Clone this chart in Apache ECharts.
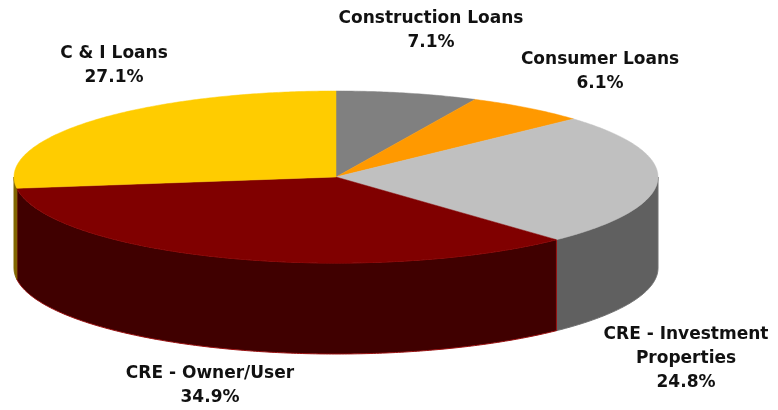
<!DOCTYPE html>
<html>
<head>
<meta charset="utf-8">
<style>html,body{margin:0;padding:0;background:#fff}#c{width:778px;height:410px}</style>
<script src="https://cdn.jsdelivr.net/npm/echarts@6/dist/echarts.min.js"></script>
</head>
<body>
<div id="c"></div>
<script>
const categories = ['Construction Loans', 'Consumer Loans', 'CRE - Investment\nProperties', 'CRE - Owner/User', 'C & I Loans'];
const shares = [7.1, 6.1, 24.8, 34.9, 27.1];
const topColors = ['#808080', '#FF9900', '#C0C0C0', '#800000', '#FFCC00'];
const sideColors = ['#404040', '#804C00', '#606060', '#400000', '#806600'];
const sideEdges = ['#606060', '#804C00', '#707070', '#9a1010', '#806600'];
const labelAnchors = [[431, 31], [600, 72], [686, 359], [210, 386], [114, 66]];

const CX = 336, CY = 177, RX = 322, RY = 86, DEPTH = 91;
const total = shares.reduce((a, b) => a + b, 0);

function pt(a, dy) {
  return [CX + RX * Math.sin(a), CY - RY * Math.cos(a) + (dy || 0)];
}
function arc(a0, a1, dy) {
  const out = [];
  const n = Math.max(2, Math.ceil((a1 - a0) / 0.01));
  for (let i = 0; i <= n; i++) out.push(pt(a0 + (a1 - a0) * i / n, dy));
  return out;
}

const chart = echarts.init(document.getElementById('c'), null, { renderer: 'canvas' });

function cumBefore(i) {
  let s = 0;
  for (let k = 0; k < i; k++) s += shares[k];
  return s;
}

function renderSlice(params, api) {
  const i = params.dataIndex;
  const start = cumBefore(i) / total * Math.PI * 2;
  const end = start + api.value(0) / total * Math.PI * 2;
  const children = [];
  // side wall: only the front half of the rim (90deg..270deg) is visible
  const s0 = Math.max(start, Math.PI / 2), s1 = Math.min(end, Math.PI * 1.5);
  if (s1 > s0) {
    const upper = arc(s0, s1, 0);
    const lower = arc(s0, s1, DEPTH).reverse();
    children.push({
      type: 'polygon', z2: 1,
      shape: { points: upper.concat(lower) },
      style: { fill: sideColors[i], stroke: sideEdges[i], lineWidth: 1 }
    });
  }
  children.push({
    type: 'polygon', z2: 2,
    shape: { points: [[CX, CY]].concat(arc(start, end, 0)) },
    style: { fill: topColors[i], stroke: topColors[i], lineWidth: 0.5 }
  });
  children.push({
    type: 'text', z2: 3,
    style: {
      x: labelAnchors[i][0], y: labelAnchors[i][1],
      text: categories[i] + '\n' + api.value(0).toFixed(1) + '%',
      align: 'center', verticalAlign: 'middle',
      fontFamily: '"DejaVu Sans", sans-serif', fontWeight: 'bold', fontSize: 17,
      lineHeight: 24, fill: '#111'
    }
  });
  return { type: 'group', children };
}

chart.setOption({
  animation: false,
  backgroundColor: '#fff',
  series: [{
    type: 'custom',
    coordinateSystem: 'none',
    renderItem: renderSlice,
    data: shares.map((v, i) => ({ name: categories[i], value: [v] }))
  }]
});
</script>
</body>
</html>
